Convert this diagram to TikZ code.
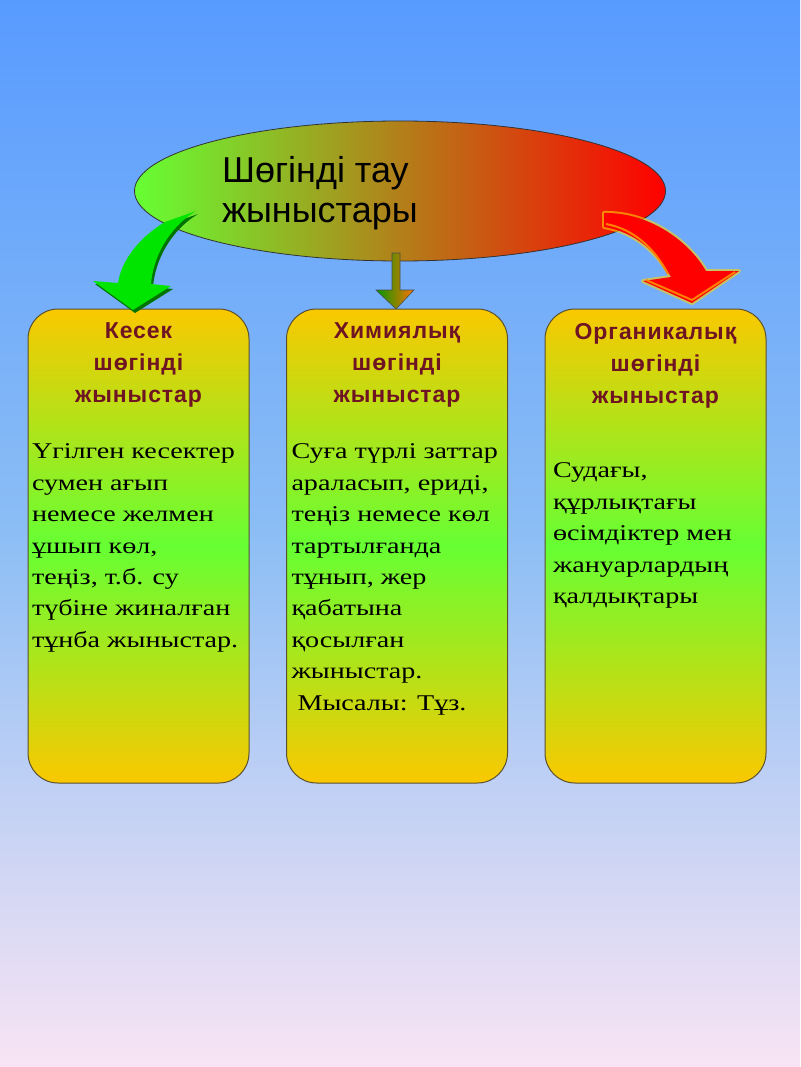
\documentclass[tikz,border=0pt]{standalone}
\usepackage{fontspec}
\usetikzlibrary{positioning,shapes.geometric}
\newfontfamily\headfont{Liberation Sans}
\newfontfamily\titlefont[LetterSpace=4]{Liberation Sans}
\newfontfamily\bodyfont[FakeStretch=1.25]{Liberation Serif}
\definecolor{skytop}{RGB}{88,155,255}
\definecolor{skymid}{RGB}{140,190,245}
\definecolor{skybot}{RGB}{248,228,244}
\definecolor{gold}{RGB}{250,200,0}
\definecolor{leaf}{RGB}{102,255,51}
\definecolor{maroon}{RGB}{110,20,35}
\definecolor{boxedge}{RGB}{90,80,50}
\begin{document}
\begin{tikzpicture}[x=1pt,y=1pt,
    every node/.style={inner sep=0pt,outer sep=0pt},
    rockbox/.style={draw=boxedge,line width=1pt,rounded corners=30pt,
        minimum width=221pt,minimum height=474pt,
        top color=gold,bottom color=gold,middle color=leaf},
    boxtitle/.style={font=\titlefont\bfseries\fontsize{23}{32}\selectfont,
        text=maroon,align=center},
    boxtext/.style={font=\bodyfont\fontsize{22.5}{31.4}\selectfont,align=left}
  ]

  \shade[top color=skytop,bottom color=skybot,middle color=skymid]
    (0,0) rectangle (800,-1067);

  \node[ellipse,draw=black!80,line width=.8pt,left color=leaf,right color=red,
    minimum width=531pt,minimum height=140pt] (rock) at (400,-191) {};
  \node[font=\headfont\fontsize{36}{40}\selectfont,align=left,anchor=north west]
    (rocktext) at (222,-156) {Шөгінді тау\\жыныстары};

  \node[rockbox] (clastic) at (138.5,-546) {};
  \node[rockbox] (chemical) at (397,-546) {};
  \node[rockbox] (organic) at (655.5,-546) {};

  \node[boxtitle,below=14pt of clastic.north] (clastictitle) {Кесек\\шөгінді\\жыныстар};
  \node[boxtitle,below=14pt of chemical.north] (chemicaltitle) {Химиялық\\шөгінді\\жыныстар};
  \node[boxtitle,below=14pt of organic.north] (organictitle) {Органикалық\\шөгінді\\жыныстар};

  \node[boxtext,below right=135pt and 4pt of clastic.north west] (clastictext)
    {Үгілген кесектер\\сумен ағып\\немесе желмен\\ұшып көл,\\теңіз, т.б. су\\түбіне жиналған\\тұнба жыныстар.};
  \node[boxtext,below right=135pt and 5pt of chemical.north west] (chemicaltext)
    {Суға түрлі заттар\\араласып, ериді,\\теңіз немесе көл\\тартылғанда\\тұнып, жер\\қабатына\\қосылған\\жыныстар.\\\hspace*{6pt}Мысалы: Тұз.};
  \node[boxtext,below right=154pt and 8pt of organic.north west] (organictext)
    {Судағы,\\құрлықтағы\\өсімдіктер мен\\жануарлардың\\қалдықтары};

  \fill[green!45!black,shift={(2,-3)}] (165,-222) .. controls (138,-238) and (121,-262) .. (118,-283)
    -- (93,-281) -- (133,-310) -- (171,-286) -- (151,-284)
    .. controls (153,-258) and (168,-228) .. (196,-211) -- cycle;
  \fill[green!90!black] (165,-222) .. controls (138,-238) and (121,-262) .. (118,-283)
    -- (93,-281) -- (133,-310) -- (171,-286) -- (151,-284)
    .. controls (153,-258) and (168,-228) .. (196,-211) -- cycle;

  \shadedraw[left color=green!60!black,right color=orange!90!red,draw=black!70,line width=.6pt]
    (392,-253) -- (400,-253) -- (400,-290) -- (414,-290) -- (396,-309)
    -- (376,-290) -- (392,-290) -- cycle;

  \draw[yellow!70!orange,line width=4pt,opacity=.6,line join=round]
    (604,-213) .. controls (648,-212) and (688,-240) .. (706,-271) -- (739,-271) -- (692,-303)
    -- (643,-281) -- (671,-277) .. controls (657,-252) and (635,-232) .. (604,-227) -- cycle;
  \fill[red] (604,-213) .. controls (648,-212) and (688,-240) .. (706,-271) -- (739,-271) -- (692,-303)
    -- (643,-281) -- (671,-277) .. controls (657,-252) and (635,-232) .. (604,-227) -- cycle;
  \draw[orange,line width=2pt] (606,-224) .. controls (634,-229) and (655,-249) .. (668,-274);
  \draw[orange,line width=2pt] (646,-280) -- (692,-300) -- (735,-272);

\end{tikzpicture}
\end{document}
